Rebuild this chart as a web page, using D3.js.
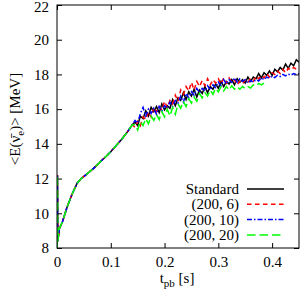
<!DOCTYPE html>
<html>
<head>
<meta charset="utf-8">
<script src="https://cdn.jsdelivr.net/npm/d3@7"></script>
<style>
  body { margin: 0; background: #fff; }
  svg text { font-family: "Liberation Serif", "DejaVu Serif", serif; }
</style>
</head>
<body>
<div id="chart"></div>
<script>
// ---- data ----
// shared rise right after bounce (all four runs lie on top of each other)
const earlyT = [0, 0.0008, 0.0016, 0.0045, 0.01, 0.019, 0.028, 0.0375, 0.045, 0.053,
  0.06, 0.068, 0.076, 0.084, 0.092, 0.1, 0.11, 0.12, 0.13, 0.14];
const earlyE = [8.0, 12.2, 8.4, 9.13, 9.5, 10.38, 11.1, 11.73, 12.0, 12.2,
  12.38, 12.59, 12.83, 13.07, 13.3, 13.55, 13.9, 14.25, 14.65, 15.1];

// noisy part
const lateT = [0.145, 0.15, 0.155, 0.16, 0.165, 0.17, 0.175, 0.18, 0.185, 0.19,
  0.195, 0.2, 0.205, 0.21, 0.215, 0.22, 0.225, 0.23, 0.235, 0.24,
  0.245, 0.25, 0.255, 0.26, 0.265, 0.27, 0.275, 0.28, 0.285, 0.29,
  0.295, 0.3, 0.305, 0.31, 0.315, 0.32, 0.325, 0.33, 0.335, 0.34,
  0.345, 0.35, 0.355, 0.36, 0.365, 0.37, 0.375, 0.38, 0.385, 0.39,
  0.395, 0.4, 0.405, 0.41, 0.415, 0.42, 0.425, 0.43, 0.435, 0.44,
  0.445, 0.45];

const standardE = [15.25, 15.05, 15.6, 15.45, 15.9, 15.6, 16.1, 15.85, 16.15, 15.8,
  16.3, 15.95, 16.2, 16.05, 16.55, 16.2, 16.65, 16.5, 16.95, 16.55,
  17.0, 16.75, 17.15, 16.7, 17.1, 16.9, 17.3, 16.95, 17.3, 17.15,
  17.45, 17.2, 17.6, 17.3, 17.6, 17.45, 17.7, 17.4, 17.75, 17.55,
  17.7, 17.5, 17.85, 17.6, 17.85, 17.75, 18.05, 17.8, 18.1, 17.95,
  18.2, 17.95, 18.3, 18.15, 18.4, 18.25, 18.6, 18.35, 18.65, 18.5,
  18.85, 18.7];

const run200_6E = [14.95, 15.3, 15.05, 15.55, 15.4, 15.85, 15.55, 16.1, 15.85, 16.15,
  15.95, 16.45, 16.1, 16.5, 16.3, 16.8, 16.45, 17.1, 16.85, 17.3,
  17.05, 17.55, 17.1, 17.6, 17.3, 17.65, 17.35, 17.75, 17.4, 17.7,
  17.5, 17.75, 17.45, 17.8, 17.5, 17.8, 17.55, 17.7, 17.4, 17.6,
  17.45, 17.7, 17.55, 17.75, 17.6, 17.9, 17.75, 17.95, 17.8, 18.05,
  17.85, 18.1, 18.0, 18.2, 18.05, 18.3, 18.1, 18.35, 18.25, 18.4,
  18.3, 18.4];

const run200_10E = [15.35, 15.2, 15.75, 16.1, 15.6, 16.0, 15.75, 16.05, 15.7, 16.15,
  15.9, 16.2, 16.05, 16.4, 16.15, 16.5, 16.35, 16.75, 16.4, 16.9,
  16.65, 17.0, 16.8, 17.2, 16.95, 17.2, 17.05, 17.35, 17.1, 17.4,
  17.25, 17.55, 17.35, 17.7, 17.45, 17.7, 17.55, 17.8, 17.55, 17.75,
  17.6, 17.7, 17.5, 17.65, 17.55, 17.7, 17.62, 17.8, 17.7, 17.85,
  17.78, 17.9, 17.82, 17.95, 17.88, 18.0, 17.92, 18.02, 17.96, 18.05,
  18.0, 18.05];

const run200_20E = [15.1, 14.8, 15.3, 15.05, 15.45, 15.15, 15.6, 15.35, 15.7, 15.4,
  15.85, 15.55, 16.0, 15.6, 16.1, 15.7, 16.3, 16.05, 16.45, 16.15,
  16.6, 16.35, 16.7, 16.45, 16.9, 16.65, 16.95, 16.75, 17.1, 16.85,
  17.2, 17.0, 17.3, 17.05, 17.3, 17.1, 17.35, 17.15, 17.3, 17.15,
  17.3, 17.18, 17.3, 17.22, 17.4, 17.32, 17.48, 17.4, 17.5];

const seriesNames = ["Standard", "(200, 6)", "(200, 10)", "(200, 20)"];
const seriesLate = [standardE, run200_6E, run200_10E, run200_20E];
const seriesColors = ["#000000", "#ff0000", "#0000ff", "#00ff00"];
const seriesDash = [null, "4.5,3.5", "5,2,1.5,2", "8.5,4"];

const xTicks = [0, 0.1, 0.2, 0.3, 0.4];
const yTicks = [8, 10, 12, 14, 16, 18, 20, 22];

// ---- layout ----
const W = 300, H = 297;
const x = d3.scaleLinear().domain([0, 0.45]).range([57, 299]);
const y = d3.scaleLinear().domain([8, 22]).range([248, 5]);

const svg = d3.select('#chart').append('svg')
    .attr('width', W).attr('height', H);

svg.append('clipPath').attr('id', 'plotclip')
  .append('rect')
    .attr('x', x(0)).attr('y', y(22))
    .attr('width', x(0.45) - x(0)).attr('height', y(8) - y(22));

// axes, ticks pointing inward on all four sides
function styleAxis(g) {
    g.select('.domain').remove();
    g.selectAll('.tick line').attr('stroke', '#000');
    g.selectAll('text')
        .attr('font-family', '"Liberation Serif", serif')
        .attr('font-size', 15)
        .attr('fill', '#000');
}

svg.append('g').attr('transform', `translate(0,${y(8)})`)
    .call(d3.axisBottom(x).tickValues(xTicks).tickSize(-5).tickPadding(8)
        .tickFormat(d => d === 0 ? '0' : d3.format('.1f')(d)))
    .call(styleAxis);
svg.append('g').attr('transform', `translate(0,${y(22)})`)
    .call(d3.axisTop(x).tickValues(xTicks).tickSize(-5).tickFormat(''))
    .call(styleAxis);
svg.append('g').attr('transform', `translate(${x(0)},0)`)
    .call(d3.axisLeft(y).tickValues(yTicks).tickSize(-5).tickPadding(8))
    .call(styleAxis)
    // top label sits against the page edge; nudge it down a hair
    .selectAll('.tick text').filter(d => d === 22).attr('dy', '0.45em');
svg.append('g').attr('transform', `translate(${x(0.45)},0)`)
    .call(d3.axisRight(y).tickValues(yTicks).tickSize(-5).tickFormat(''))
    .call(styleAxis);

// curves
const line = d3.line().x(d => x(d[0])).y(d => y(d[1]));
const plot = svg.append('g').attr('clip-path', 'url(#plotclip)');

seriesLate.forEach((vals, i) => {
    const pts = earlyT.map((t, j) => [t, earlyE[j]])
        .concat(vals.map((v, j) => [lateT[j], v]));
    plot.append('path')
        .attr('d', line(pts))
        .attr('fill', 'none')
        .attr('stroke', seriesColors[i])
        .attr('stroke-width', 1.5)
        .attr('stroke-dasharray', seriesDash[i]);
});

// frame
svg.append('rect')
    .attr('x', x(0)).attr('y', y(22))
    .attr('width', x(0.45) - x(0)).attr('height', y(8) - y(22))
    .attr('fill', 'none').attr('stroke', '#000').attr('stroke-width', 1);

// legend
const key = svg.append('g');
seriesNames.forEach((name, i) => {
    const ly = 189 + i * 15.3;
    key.append('text')
        .attr('x', 239).attr('y', ly)
        .attr('dy', '0.33em')
        .attr('text-anchor', 'end')
        .attr('font-size', 15)
        .text(name);
    key.append('line')
        .attr('x1', 247).attr('x2', 284)
        .attr('y1', ly).attr('y2', ly)
        .attr('stroke', seriesColors[i])
        .attr('stroke-width', 1.5)
        .attr('stroke-dasharray', seriesDash[i]);
});

// axis titles
const xt = svg.append('text')
    .attr('x', 177).attr('y', 283)
    .attr('text-anchor', 'middle')
    .attr('font-size', 15);
xt.append('tspan').text('t');
xt.append('tspan').attr('font-size', 11).attr('dy', 4).text('pb');
xt.append('tspan').attr('dy', -4).text(' [s]');

const yt = svg.append('text')
    .attr('transform', 'translate(20,119) rotate(-90)')
    .attr('text-anchor', 'middle')
    .attr('font-size', 15);
yt.append('tspan').text('<E(\u03bd\u0304');
yt.append('tspan').attr('font-size', 11).attr('dy', 4).text('e');
yt.append('tspan').attr('dy', -4).text(')> [MeV]');
</script>
</body>
</html>
